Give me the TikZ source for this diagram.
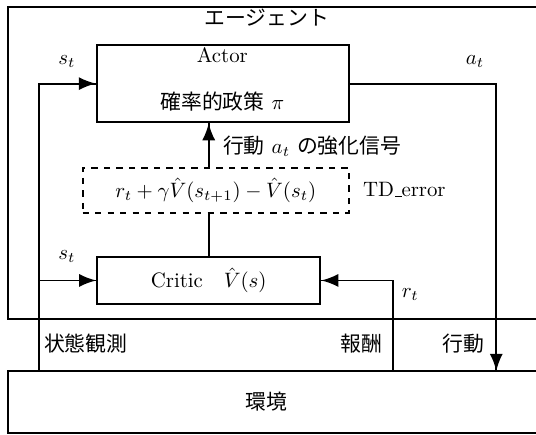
\documentclass[tikz,border=0pt]{standalone}
\usepackage{fontspec}
\usepackage{amsmath}
\newfontfamily\jp{Noto Sans CJK JP}
\usetikzlibrary{arrows}
\usetikzlibrary{decorations.markings}
\tikzset{->/.style = {decoration={markings,
                                  mark=at position 1 with {\arrow[scale=1.5]{latex}}},
                      postaction={decorate}}}
\tikzset{blk/.style = {draw, inner sep = 0}}
\tikzset{tdbox/.style = {draw, dashed, inner sep = 0}}
\tikzset{jp/.style = {font = \jp}}

\begin{document}
\begin{tikzpicture}[line width=0.9pt]
    \useasboundingbox (0, 0) rectangle (9.04, 7.32);

    \draw (0.135, 1.94) rectangle (9.6, 7.20);
    \node [jp] (agentname) at (4.50, 7.02) {エージェント};

    \draw (0.135, 0.017) rectangle (9.6, 1.063);
    \node [jp] (envname) at (4.50, 0.54) {環境};

    \node [blk, minimum width = 4.25cm, minimum height = 1.30cm] (actor) at (3.76, 5.91) {};
    \node (actorname) at (3.75, 6.39) {Actor};
    \node (policy) at (3.75, 5.60) {{\jp 確率的政策} $\pi$};

    \node [tdbox, minimum width = 4.49cm, minimum height = 0.76cm] (td) at (3.64, 4.11)
      {$r_t + \gamma \hat{V}(s_{t+1}) - \hat{V}(s_t)$};
    \node [anchor = west] (tderror) at (5.99, 4.12)
      {{\fontencoding{OT1}\selectfont TD\_error}};

    \node [blk, minimum width = 3.76cm, minimum height = 0.79cm] (critic) at (3.52, 2.59)
      {Critic\quad$\hat{V}(s)$};

    \coordinate (obs) at (0.658, 1.063);
    \coordinate (rew) at (6.63, 1.063);
    \coordinate (act) at (8.37, 1.063);

    \draw [->] (obs) |- (actor.west);
    \draw [->] (obs |- critic.west) -- (critic.west);
    \draw [->] (rew) |- (critic.east);
    \draw [->] (actor.east) -| (act);
    \draw (critic.north) -- (critic.north |- td.south);
    \draw [->] (critic.north |- td.north) -- (critic.north |- actor.south);

    \node (sactor) at (1.13, 6.28) {$s_t$};
    \node (scritic) at (1.13, 2.99) {$s_t$};
    \node (aout) at (8.01, 6.28) {$a_t$};
    \node (rin) at (6.92, 2.35) {$r_t$};
    \node [anchor = west] (signal) at (3.63, 4.86) {{\jp 行動} $a_t$ {\jp の強化信号}};

    \node [jp, anchor = west] (obsname) at (0.61, 1.52) {状態観測};
    \node [jp, anchor = east] (rewname) at (6.58, 1.52) {報酬};
    \node [jp, anchor = east] (actname) at (8.30, 1.52) {行動};
\end{tikzpicture}
\end{document}
